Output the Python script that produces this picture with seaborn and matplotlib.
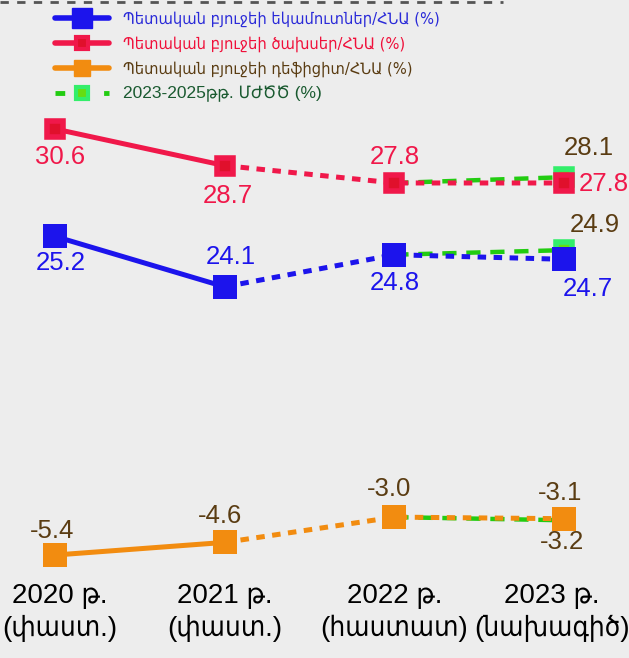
import numpy as np
import pandas as pd
import matplotlib
matplotlib.use("Agg")
import matplotlib.pyplot as plt
import matplotlib.transforms as mtransforms
from matplotlib.lines import Line2D
import seaborn as sns

# ---- data ----
year_labels = ["2020 թ.\n(փաստ.)", "2021 թ.\n(փաստ.)", "2022 թ.\n(հաստատ)", "2023 թ.\n(նախագիծ)"]
revenue = [25.2, 24.1, 24.8, 24.7]
expense = [30.6, 28.7, 27.8, 27.8]
deficit = [-5.4, -4.6, -3.0, -3.1]
# 2023-2025 MTEF (ՄԺԾԾ) line: 2022 base -> 2023
mtef_revenue = [24.8, 24.9]
mtef_expense = [27.8, 28.1]
mtef_deficit = [-3.0, -3.2]

legend_labels = [
    "Պետական բյուջեի եկամուտներ/ՀՆԱ (%)",
    "Պետական բյուջեի ծախսեր/ՀՆԱ (%)",
    "Պետական բյուջեի դեֆիցիտ/ՀՆԱ (%)",
    "2023-2025թթ. ՄԺԾԾ (%)",
]

BLUE = "#1c14ec"
RED = "#f0184a"
RED_IN = "#e0102c"
ORANGE = "#f28c10"
GREEN = "#22cc11"
GREEN_FACE = "#33ee6a"
GREEN_IN = "#66dd11"
BROWN = "#5a3c12"

NUM_FONT = ["Liberation Sans", "DejaVu Sans"]

sns.set_theme(style="white")
plt.rcParams["font.family"] = ["DejaVu Sans"]

x = np.arange(len(year_labels))
df = pd.DataFrame({"x": x, "revenue": revenue, "expense": expense, "deficit": deficit})

fig = plt.figure(figsize=(6.29, 6.58), dpi=100, facecolor="#ededed")
pos = [0, 78 / 658, 1, 580 / 658]
ax = fig.add_axes(pos)
ax_red = fig.add_axes(pos, sharex=ax)
ax_blue = fig.add_axes(pos, sharex=ax)

for a in (ax, ax_red, ax_blue):
    a.patch.set_alpha(0)
    for s in a.spines.values():
        s.set_visible(False)
    a.set_yticks([])
ax_red.tick_params(labelbottom=False, length=0)
ax_blue.tick_params(labelbottom=False, length=0)

# each series gets its own vertical scale, like the original panel
ax.set_xlim(-0.324, 3.383)
ax.set_ylim(-6.98, 29.73)
ax_red.set_ylim(7.23, 37.28)
ax_blue.set_ylim(17.70, 30.36)

ax.set_xticks(x)
ax.set_xticklabels(year_labels, fontsize=20, family=NUM_FONT, stretch="condensed",
                   color="black", linespacing=1.3)
ax.tick_params(axis="x", length=0, pad=2)
ax.set_xlabel("")
ax.set_ylabel("")
# nudge first and last labels so they stay inside the picture
for lbl, shift in zip([ax.get_xticklabels()[0], ax.get_xticklabels()[-1]], [5, -12]):
    lbl.set_transform(lbl.get_transform() + mtransforms.ScaledTranslation(shift / 100, 0, fig.dpi_scale_trans))


def draw_series(a, col, mtef, color, size, face=None, edge=None):
    d = df[["x", col]]
    # mtef dashed line first (below main markers)
    sns.lineplot(x=x[2:], y=mtef, ax=a, color=GREEN, linewidth=3.2,
                 linestyle=(0, (3.2, 2.2)), legend=False)
    a.plot(x[3], mtef[1], marker="s", ls="", ms=12, mfc=GREEN_IN,
           mec=GREEN_FACE, mew=4, zorder=3)
    sns.lineplot(data=d.iloc[:2], x="x", y=col, ax=a, color=color,
                 linewidth=3.6, legend=False)
    sns.lineplot(data=d.iloc[1:], x="x", y=col, ax=a, color=color,
                 linewidth=3.6, linestyle=(0, (1.7, 1.5)), legend=False)
    a.plot(d["x"], d[col], marker="s", ls="", ms=size,
           mfc=face or color, mec=edge or color, mew=4 if face else 0, zorder=4)
    a.set_xlabel("")
    a.set_ylabel("")


draw_series(ax_red, "expense", mtef_expense, RED, 12, face=RED_IN, edge=RED)
draw_series(ax_blue, "revenue", mtef_revenue, BLUE, 17.5)
draw_series(ax, "deficit", mtef_deficit, ORANGE, 17)


def label(a, xi, v, dx, dy, color):
    a.annotate(f"{v:.1f}", (xi, v), xytext=(dx, dy), textcoords="offset pixels",
               ha="center", va="center", fontsize=18.5, family=NUM_FONT,
               stretch="condensed", color=color)


# expense labels
label(ax_red, 0, expense[0], 5, -28, RED)
label(ax_red, 1, expense[1], 3, -30, RED)
label(ax_red, 2, expense[2], 0, 26, RED)
label(ax_red, 3, expense[3], 40, -1, RED)
label(ax_red, 3, mtef_expense[1], 25, 29, BROWN)
# revenue labels
label(ax_blue, 0, revenue[0], 6, -27, BLUE)
label(ax_blue, 1, revenue[1], 6, 30, BLUE)
label(ax_blue, 2, revenue[2], 0, -28, BLUE)
label(ax_blue, 3, revenue[3], 24, -30, BLUE)
label(ax_blue, 3, mtef_revenue[1], 31, 25, BROWN)
# deficit labels
label(ax, 0, deficit[0], -3, 24, BROWN)
label(ax, 1, deficit[1], -5, 26, BROWN)
label(ax, 2, deficit[2], -5, 28, BROWN)
label(ax, 3, deficit[3], -4, 26, BROWN)
label(ax, 3, mtef_deficit[1], -2, -22, BROWN)

# legend
handles = [
    Line2D([], [], color=BLUE, lw=4, marker="s", ms=15, mec=BLUE),
    Line2D([], [], color=RED, lw=4, marker="s", ms=9, mfc=RED_IN, mec=RED, mew=3),
    Line2D([], [], color=ORANGE, lw=4, marker="s", ms=12, mec=ORANGE),
    Line2D([], [], color=GREEN, lw=3.5, ls=(0, (2, 3)), marker="s", ms=8,
           mfc=GREEN_IN, mec=GREEN_FACE, mew=3),
]
leg = fig.legend(handles, legend_labels, loc="upper left", bbox_to_anchor=(40 / 629, 1.005),
                 frameon=False, handlelength=3.3, handletextpad=0.85,
                 labelspacing=0.55, prop={"family": "DejaVu Sans", "stretch": "condensed", "size": 11.8})
for t, c in zip(leg.get_texts(), ["#2a2ad8", "#f0103a", BROWN, "#1a5a30"]):
    t.set_color(c)
leg.get_texts()[3].set_fontsize(12.5)
leg.get_texts()[3].set_family(NUM_FONT)

# dashed border at the top
fig.add_artist(Line2D([0, 0.8], [0.997, 0.997], transform=fig.transFigure,
                      color="#555555", lw=2, ls=(0, (3, 3))))

fig.savefig("out.png", dpi=100, facecolor=fig.get_facecolor())
